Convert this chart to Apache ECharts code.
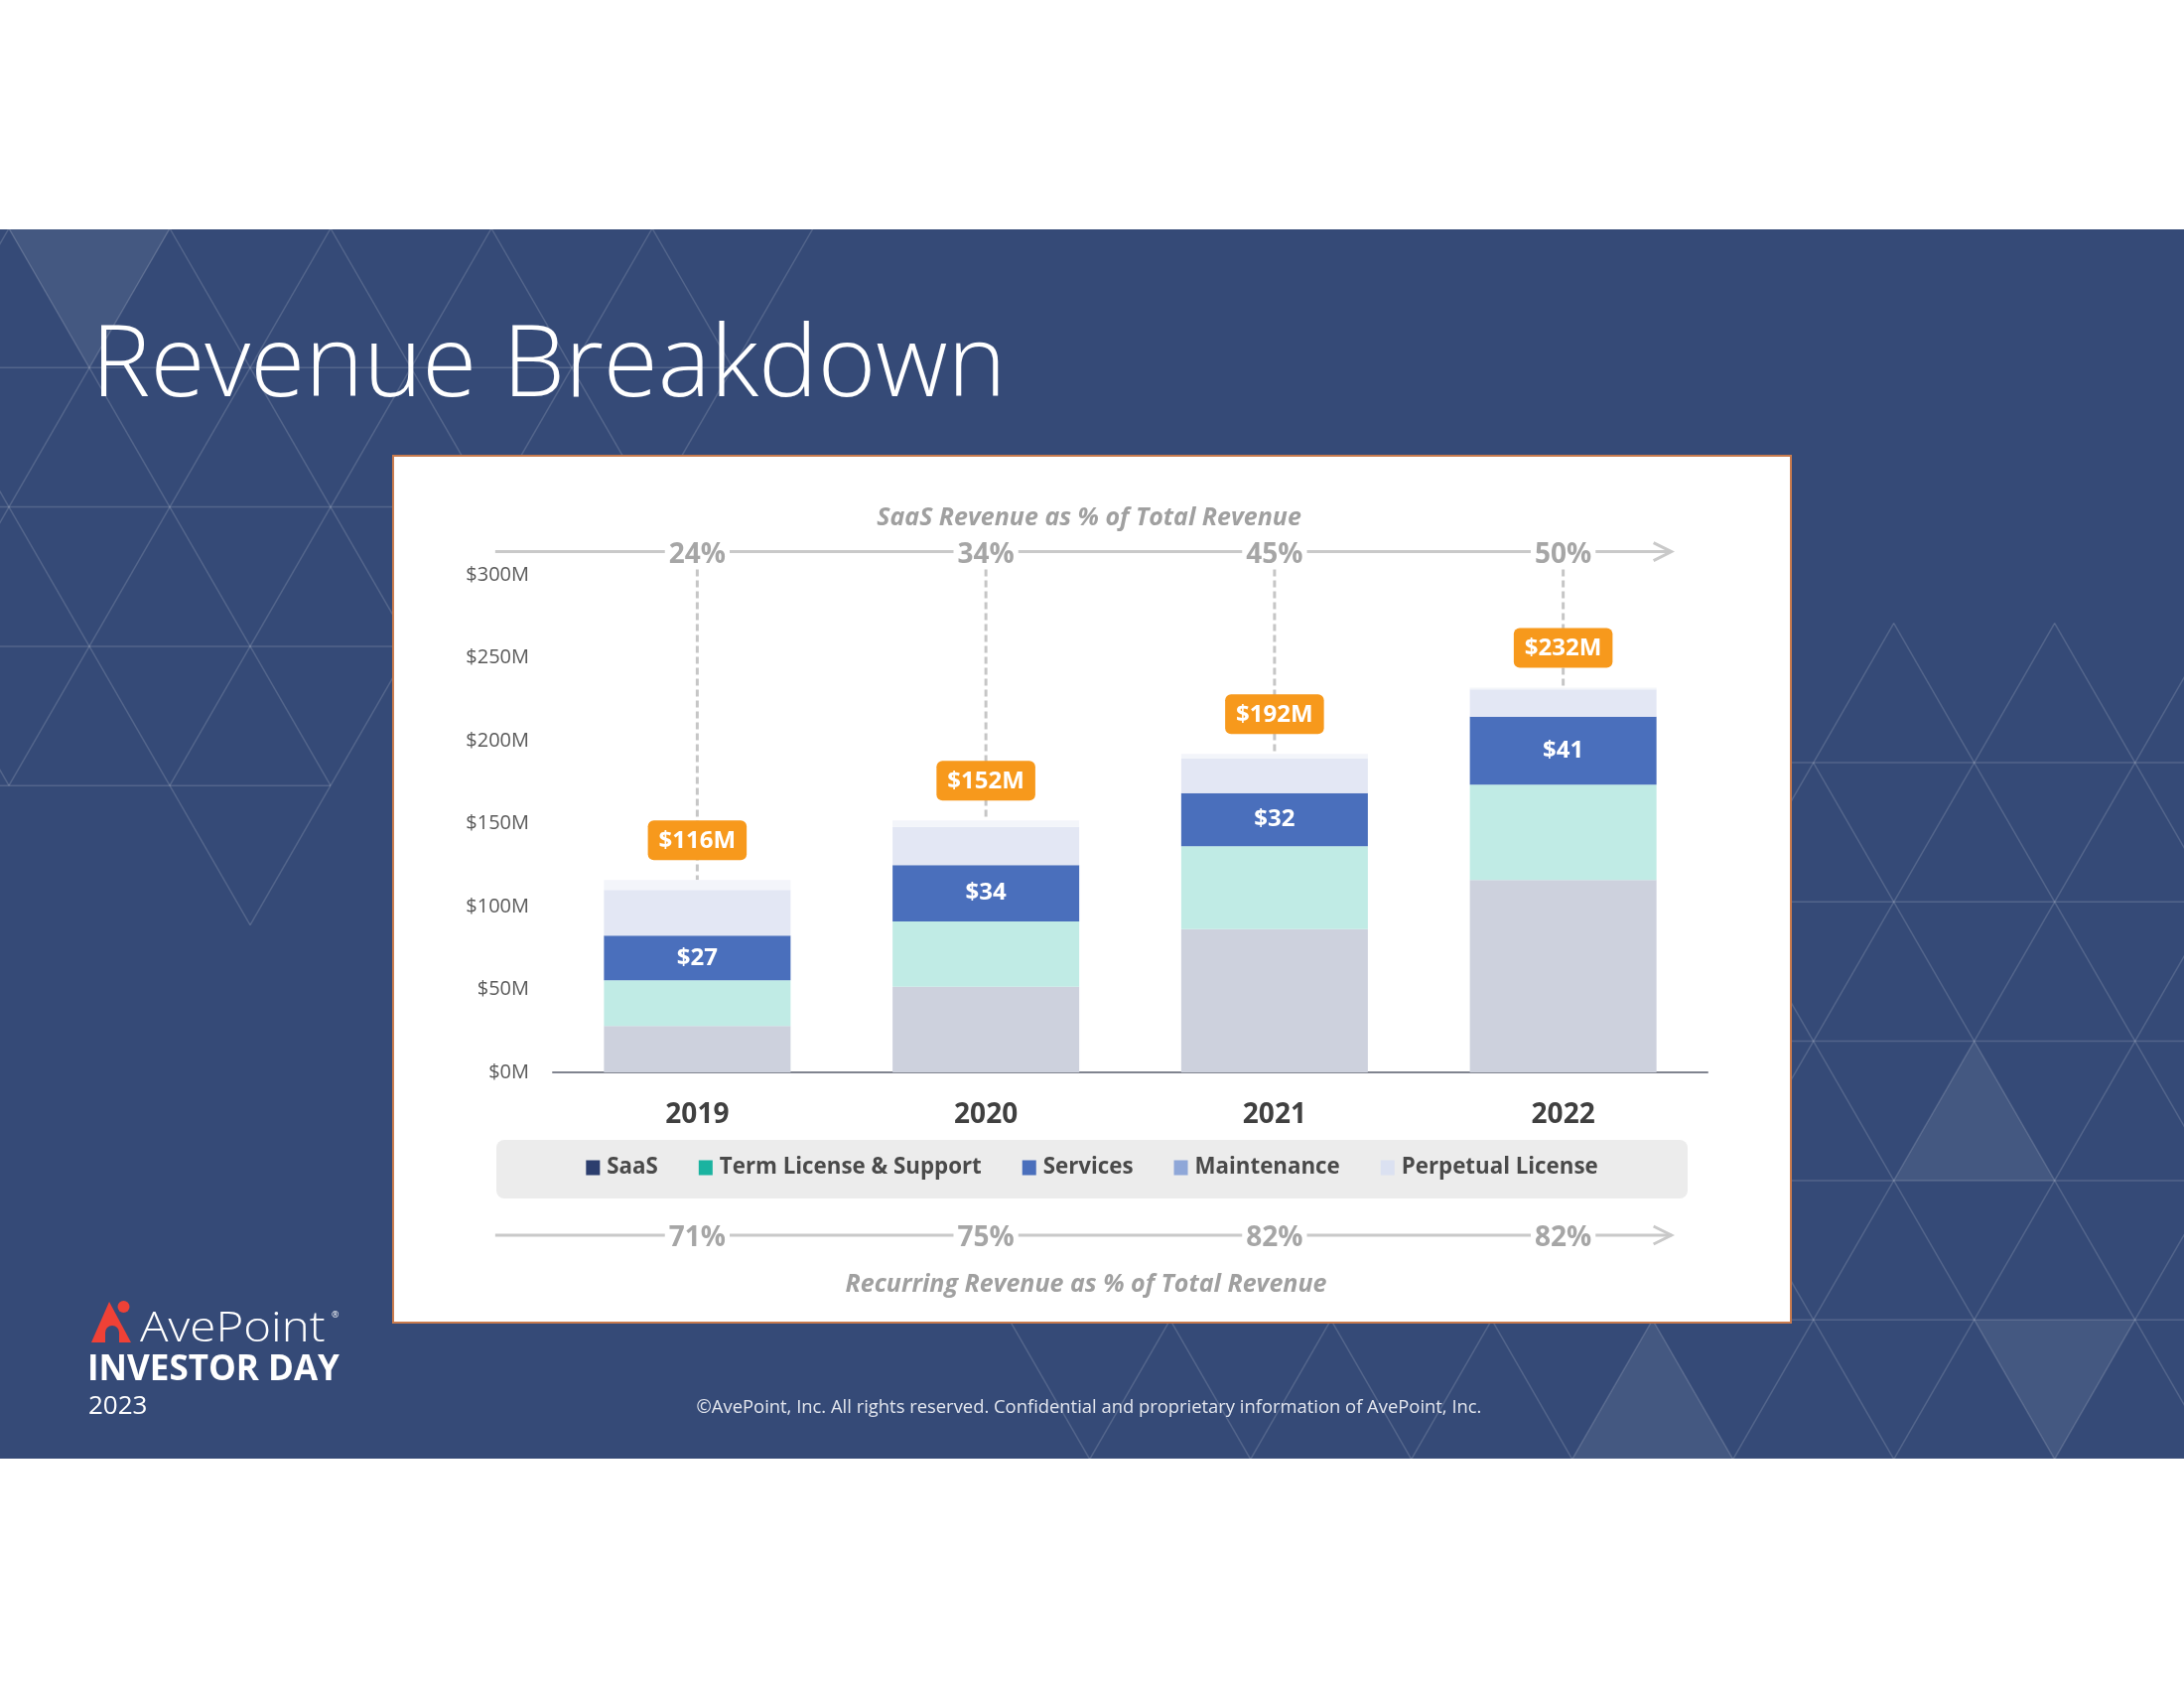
<!DOCTYPE html>
<html><head><meta charset="utf-8">
<script src="https://cdn.jsdelivr.net/npm/echarts@6/dist/echarts.min.js"></script>
<style>html,body{margin:0;padding:0;background:#fff}#c{width:2200px;height:1700px}</style>
</head><body><div id="c"></div>
<script>
// ---- data ----
const years = ['2019', '2020', '2021', '2022'];
const saas = [28, 51.7, 86.4, 116];
const termLicense = [27.5, 39.3, 50, 57.5];
const services = [27, 34, 32, 41];
const maintenance = [27.5, 23, 21, 16.5];
const perpetual = [6, 4, 2.6, 1];
const totals = [116, 152, 192, 232];
const saasPct = ['24%', '34%', '45%', '50%'];
const recurringPct = ['71%', '75%', '82%', '82%'];
const yTickLabels = ['$0M', '$50M', '$100M', '$150M', '$200M', '$250M', '$300M'];
const seriesNames = ['SaaS', 'Term License & Support', 'Services', 'Maintenance', 'Perpetual License'];

const FONT = "'Open Sans', 'Noto Sans', sans-serif";
const seriesData = [saas, termLicense, services, maintenance, perpetual];
const barColors = ['#cdd1dd', '#c0ebe5', '#4a6fbc', '#e3e7f4', '#f3f5fa'];
const legendColors = ['#2c3e6e', '#1bb3a0', '#4a6fbc', '#8fa7d8', '#dbe1f1'];

const chart = echarts.init(document.getElementById('c'), null, {renderer: 'canvas', width: 2200, height: 1700});

const option = {
  animation: false,
  backgroundColor: '#ffffff',
  grid: {left: 557, right: 480, top: 579, bottom: 620, containLabel: false},
  xAxis: {
    type: 'category', data: years,
    axisLine: {lineStyle: {color: '#80848f', width: 2}},
    axisTick: {show: false},
    axisLabel: {fontFamily: FONT, fontSize: 28, fontWeight: 'bold', color: '#404040', margin: 29}
  },
  yAxis: {
    type: 'value', min: 0, max: 300, interval: 50,
    axisLine: {show: false}, axisTick: {show: false}, splitLine: {show: false},
    axisLabel: {formatter: v => yTickLabels[Math.round(v / 50)] || '', fontFamily: FONT, fontSize: 20, color: '#595959', margin: 24}
  },
  legend: {
    data: seriesNames.map((n, k) => ({name: n, itemStyle: {color: legendColors[k]}})),
    left: 'center', top: 1165, itemWidth: 14, itemHeight: 15, itemGap: 41, icon: 'rect',
    selectedMode: false, padding: 0,
    textStyle: {fontFamily: FONT, fontSize: 22.3, fontWeight: 'bold', color: '#4a4a4a', padding: [0, 0, 0, 2]}
  },
  series: seriesNames.map((n, k) => {
    const s = {
      name: n, type: 'bar', stack: 'rev', barWidth: 188, data: seriesData[k],
      itemStyle: {color: barColors[k]}, emphasis: {disabled: true}, z: 3
    };
    if (k === 2) {
      s.label = {show: true, position: 'inside', formatter: p => '$' + p.value, color: '#ffffff',
        fontSize: 24, fontWeight: 'bold', fontFamily: FONT};
    }
    if (k === 4) {
      s.label = {show: true, position: 'top', distance: 20, formatter: p => '$' + totals[p.dataIndex] + 'M',
        backgroundColor: '#f7991c', color: '#ffffff', fontSize: 24, fontWeight: 'bold', fontFamily: FONT,
        padding: [7, 11, 5, 11], borderRadius: 6, lineHeight: 28};
    }
    return s;
  })
};
chart.setOption(option);

// ---- decorations (positions derived from the chart's own scales where tied to data) ----
const px = i => chart.convertToPixel({gridIndex: 0}, [i, 0])[0];
const py = v => chart.convertToPixel({gridIndex: 0}, [0, v])[1];
const G = [];

// navy band
G.push({type: 'rect', z: -40, shape: {x: 0, y: 231, width: 2200, height: 1238}, style: {fill: '#354a77'}});

// triangular lattice background
function lattice(xBase, y0, rows, include, hInclude) {
  const s = 162, h = 140.3, verts = [];
  for (let j = 0; j < rows; j++) {
    for (let i = -2; i < 16; i++) {
      const x = xBase + i * s + (j % 2 ? s / 2 : 0), y = y0 + j * h;
      if (include(x, y)) verts.push([x, y]);
    }
  }
  for (let a = 0; a < verts.length; a++) {
    for (let b = a + 1; b < verts.length; b++) {
      const dx = verts[b][0] - verts[a][0], dy = verts[b][1] - verts[a][1];
      const d = Math.sqrt(dx * dx + dy * dy);
      if (d > s * 0.95 && d < s * 1.05) {
        if (Math.abs(dy) < 1 && !hInclude(verts[a][1])) continue;
        G.push({type: 'line', z: -38, shape: {x1: verts[a][0], y1: verts[a][1], x2: verts[b][0], y2: verts[b][1]},
          style: {stroke: 'rgba(255,255,255,0.15)', lineWidth: 1.5}});
      }
    }
  }
}
lattice(9, 230, 6, (x, y) => {
  if (x < -170) return false;
  if (y < 240) return x <= 830;
  if (y < 380) return x <= 745;
  if (y < 700) return x <= 680;
  if (y < 800) return x <= 340;
  return x > 240 && x < 265;
}, y => y > 300);
lattice(773.7, 627.7, 7, (x, y) => {
  if (y < 700) return x >= 1900;
  if (y < 1300) return x >= 1560;
  return x >= 940;
}, y => y > 700);
const lightTris = [
  [[9, 231], [171, 231], [90, 370.3]],
  [[1988.7, 1048.6], [1907.7, 1188.9], [2069.7, 1188.9]],
  [[1988.7, 1329.2], [2150.7, 1329.2], [2069.7, 1469.5]],
  [[1664.7, 1329.2], [1583.7, 1469.5], [1745.7, 1469.5]]
];
lightTris.forEach(t => G.push({type: 'polygon', z: -39, shape: {points: t}, style: {fill: 'rgba(255,255,255,0.08)'}}));

// white panel & legend box
G.push({type: 'rect', z: -20, shape: {x: 396, y: 459, width: 1408, height: 873},
  style: {fill: '#ffffff', stroke: '#c97b4e', lineWidth: 2}});
G.push({type: 'rect', z: -19, shape: {x: 500, y: 1148, width: 1200, height: 59, r: 8}, style: {fill: '#ececec'}});

// title
G.push({type: 'text', z: 10, x: 92, y: 371, style: {text: 'Revenue Breakdown', fontFamily: FONT, fontSize: 100,
  fontWeight: 300, fill: '#ffffff', align: 'left', verticalAlign: 'middle'}});

// percentage rows
const step = px(1) - px(0);
const xStart = px(0) - 0.7 * step;
const xTip = px(years.length - 1) + 0.375 * step;
const topY = py(314);
const botY = py(0) + 164;
const T = 3; // text vertical nudge
[topY, botY].forEach(y => {
  G.push({type: 'line', z: 1, shape: {x1: xStart, y1: y, x2: xTip, y2: y}, style: {stroke: '#c9c9c9', lineWidth: 3}});
  G.push({type: 'polyline', z: 1, shape: {points: [[xTip - 18, y - 9], [xTip, y], [xTip - 18, y + 9]]},
    style: {stroke: '#c9c9c9', lineWidth: 3, fill: null}});
});
years.forEach((yr, i) => {
  const x = px(i);
  G.push({type: 'line', z: 1, shape: {x1: x, y1: topY + 18, x2: x, y2: py(totals[i])},
    style: {stroke: '#c6c6c6', lineWidth: 3, lineDash: [7, 4]}});
  G.push({type: 'text', z: 5, x: x, y: topY + T, style: {text: saasPct[i], fontFamily: FONT, fontSize: 28, fontWeight: 'bold',
    fill: '#a6a6a6', align: 'center', verticalAlign: 'middle', backgroundColor: '#ffffff', padding: [0, 4]}});
  G.push({type: 'text', z: 5, x: x, y: botY + T, style: {text: recurringPct[i], fontFamily: FONT, fontSize: 28, fontWeight: 'bold',
    fill: '#a6a6a6', align: 'center', verticalAlign: 'middle', backgroundColor: '#ffffff', padding: [0, 4]}});
});
G.push({type: 'text', z: 5, x: 1097, y: topY - 34, style: {text: 'SaaS Revenue as % of Total Revenue', fontFamily: FONT,
  fontSize: 25, fontWeight: 'bold', fontStyle: 'italic', fill: '#a0a0a0', align: 'center', verticalAlign: 'middle'}});
G.push({type: 'text', z: 5, x: 1094, y: botY + 50, style: {text: 'Recurring Revenue as % of Total Revenue', fontFamily: FONT,
  fontSize: 25, fontWeight: 'bold', fontStyle: 'italic', fill: '#a0a0a0', align: 'center', verticalAlign: 'middle'}});

// logo
G.push({type: 'polygon', z: 10, shape: {points: [[92, 1352], [110, 1311], [132, 1352]]}, style: {fill: '#ef4136'}});
G.push({type: 'circle', z: 11, shape: {cx: 113, cy: 1342, r: 7}, style: {fill: '#354a77'}});
G.push({type: 'rect', z: 11, shape: {x: 106, y: 1342, width: 14, height: 11}, style: {fill: '#354a77'}});
G.push({type: 'circle', z: 10, shape: {cx: 124.5, cy: 1316, r: 6}, style: {fill: '#ef4136'}});
G.push({type: 'text', z: 10, x: 141, y: 1339, scaleX: 1.13, originX: 0, originY: 0,
  style: {text: 'AvePoint', fontFamily: FONT, fontSize: 42, fontWeight: 300,
  fill: '#ffffff', align: 'left', verticalAlign: 'middle'}});
G.push({type: 'text', z: 10, x: 334, y: 1324, style: {text: '®', fontFamily: FONT, fontSize: 9, fill: '#ffffff',
  align: 'left', verticalAlign: 'middle'}});
G.push({type: 'text', z: 10, x: 88, y: 1380, style: {text: 'INVESTOR DAY', fontFamily: FONT, fontSize: 35, fontWeight: 'bold',
  fill: '#ffffff', align: 'left', verticalAlign: 'middle'}});
G.push({type: 'text', z: 10, x: 89, y: 1417, style: {text: '2023', fontFamily: FONT, fontSize: 26, fontWeight: 400,
  fill: '#ffffff', align: 'left', verticalAlign: 'middle'}});

// footer
G.push({type: 'text', z: 10, x: 1097, y: 1418, style: {text: '©AvePoint, Inc. All rights reserved. Confidential and proprietary information of AvePoint, Inc.',
  fontFamily: FONT, fontSize: 18.4, fill: '#e3e6ee', align: 'center', verticalAlign: 'middle'}});

chart.setOption({graphic: G});
</script>
</body></html>
